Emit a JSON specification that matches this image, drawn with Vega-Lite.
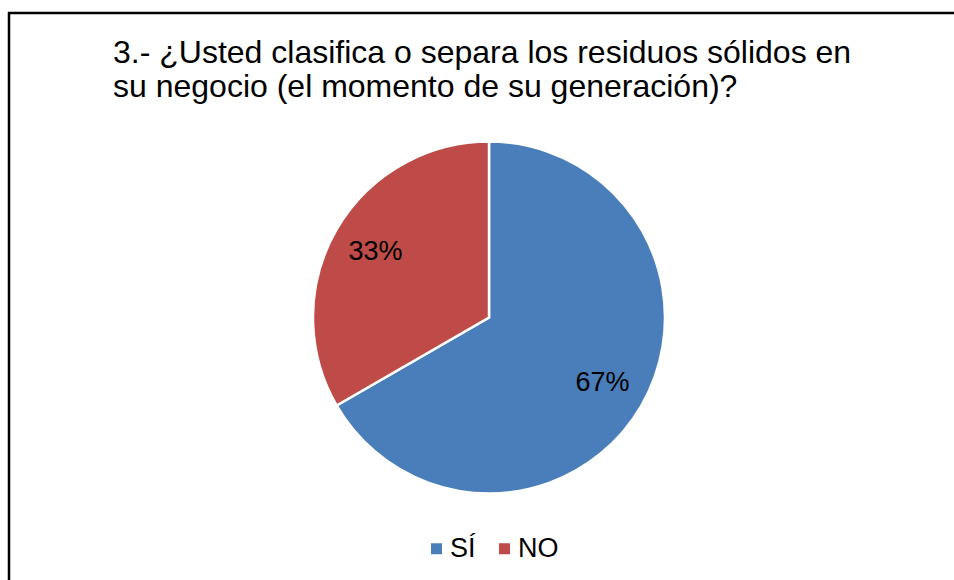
{
  "$schema": "https://vega.github.io/schema/vega-lite/v6.json",
  "width": 960,
  "height": 609,
  "autosize": {"type": "none"},
  "padding": {"left": 9, "top": 13, "right": 0, "bottom": 0},
  "background": "white",
  "view": {"stroke": "black", "strokeWidth": 2.5},
  "title": {
    "text": ["3.- ¿Usted clasifica o separa los residuos sólidos en", "su negocio (el momento de su generación)?"],
    "anchor": "start",
    "frame": "group",
    "orient": "top",
    "offset": -116,
    "dx": 104,
    "font": "Liberation Sans",
    "fontSize": 32,
    "fontWeight": "normal",
    "color": "black",
    "lineHeight": 34,
    "baseline": "alphabetic"
  },
  "data": {
    "values": [
      {"respuesta": "SÍ", "porcentaje": 66.67, "etiqueta": "67%", "orden": 1},
      {"respuesta": "NO", "porcentaje": 33.33, "etiqueta": "33%", "orden": 2}
    ]
  },
  "encoding": {
    "theta": {"field": "porcentaje", "type": "quantitative", "stack": true},
    "order": {"field": "orden", "type": "quantitative"}
  },
  "layer": [
    {
      "mark": {"type": "arc", "outerRadius": 176, "stroke": "white", "strokeWidth": 2.5},
      "encoding": {
        "color": {
          "field": "respuesta",
          "type": "nominal",
          "scale": {"domain": ["SÍ", "NO"], "range": ["#4A7EBB", "#BE4B48"]},
          "legend": {
            "orient": "none",
            "legendX": 414,
            "legendY": 522,
            "direction": "horizontal",
            "title": null,
            "symbolType": "square",
            "symbolSize": 121,
            "symbolStrokeWidth": 0,
            "symbolOpacity": 1,
            "labelFont": "Liberation Sans",
            "labelFontSize": 27,
            "labelColor": "black",
            "labelOffset": 0,
            "columnPadding": 15,
            "padding": 0
          }
        }
      }
    },
    {
      "mark": {"type": "text", "radius": 131, "font": "Liberation Sans", "fontSize": 27, "fill": "black"},
      "encoding": {
        "text": {"field": "etiqueta", "type": "nominal"},
        "detail": {"field": "respuesta", "type": "nominal"}
      }
    }
  ]
}
